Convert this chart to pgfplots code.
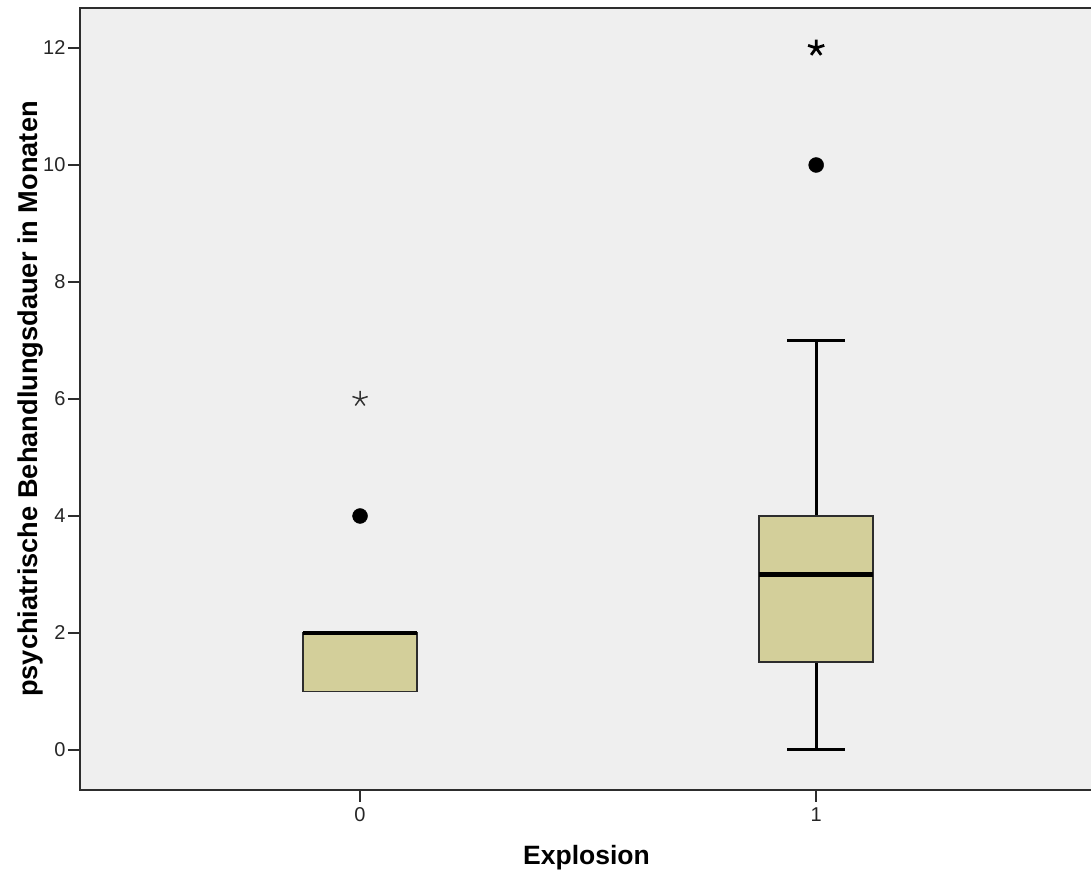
\documentclass[border=0pt]{standalone}
\usepackage{pgfplots}
\pgfplotsset{compat=1.18}
\usepgfplotslibrary{statistics}
\usepackage{fontspec}
\setmainfont{Liberation Sans}
\definecolor{boxfill}{RGB}{211,207,154}
\definecolor{bg}{RGB}{239,239,239}
\definecolor{axc}{RGB}{45,45,45}
\begin{document}
\begin{tikzpicture}
\begin{axis}[
  scale only axis, width=1013pt, height=782pt,
  xmin=-0.614, xmax=1.607, ymin=-0.684, ymax=12.684,
  axis background/.style={fill=bg},
  axis line style={axc, line width=2pt},
  xtick={0,1}, ytick={0,2,4,6,8,10,12},
  xtick pos=bottom, ytick pos=left,
  tick align=outside, major tick length=12pt,
  tick style={axc, line width=1.8pt},
  /pgf/number format/assume math mode=true,
  tick label style={font=\fontsize{20}{24}\selectfont, text=black!85},
  yticklabel style={xshift=1pt},
  xticklabel style={yshift=-2pt},
  xlabel={Explosion},
  ylabel={psychiatrische Behandlungsdauer in Monaten},
  every axis x label/.style={at={(axis description cs:0.5,-0.087)}, anchor=center, font=\bfseries\fontsize{26.5}{30}\selectfont},
  every axis y label/.style={at={(axis description cs:-0.0484,0.5)}, anchor=center, rotate=90, font=\bfseries\fontsize{27.2}{30}\selectfont},
  boxplot/draw direction=y,
  clip=false,
]
\addplot[boxplot prepared={draw position=0, lower whisker=1, lower quartile=1, median=2, upper quartile=2, upper whisker=2, box extend=0.25, whisker extend=0.127},
  boxplot/every box/.style={draw=axc, line width=1.7pt, fill=boxfill},
  boxplot/every whisker/.style={draw=none},
  boxplot/every median/.style={black, line width=4.5pt}] coordinates {};
\addplot[boxplot prepared={draw position=1, lower whisker=0, lower quartile=1.5, median=3, upper quartile=4, upper whisker=7, box extend=0.25, whisker extend=0.127},
  boxplot/every box/.style={draw=axc, line width=1.7pt, fill=boxfill},
  boxplot/every whisker/.style={black, line width=3pt},
  boxplot/every median/.style={black, line width=4.5pt}] coordinates {};
\addplot[only marks, mark=*, mark size=7.5pt, black] coordinates {(0,4) (1,10)};
\addplot[only marks, mark=star, mark size=8pt, black!80, mark options={line width=1.5pt}] coordinates {(0,6)};
\addplot[only marks, mark=star, mark size=8.5pt, black, mark options={line width=2.8pt}] coordinates {(1,12)};
\end{axis}
\pgfresetboundingbox
\path[use as bounding box] (-80pt,-92pt) rectangle (1011pt,790pt);
\end{tikzpicture}
\end{document}
